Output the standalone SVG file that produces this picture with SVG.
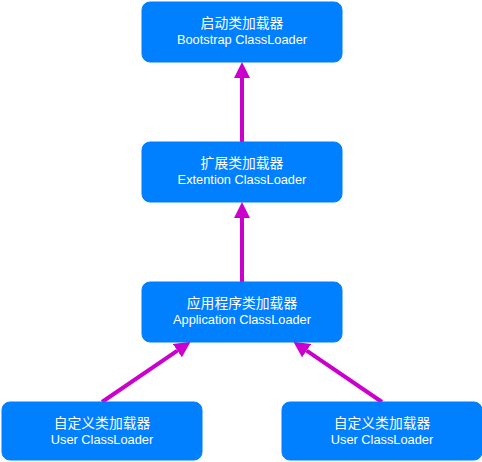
<svg xmlns="http://www.w3.org/2000/svg" width="482" height="462" viewBox="0 0 482 462">
<style>
.box{fill:#007fff;stroke:#007fff;stroke-width:1}
.cn{font-family:"Liberation Sans","Noto Sans CJK SC",sans-serif;font-size:13.8px;fill:#ffffff;text-anchor:middle}
.en{font-family:"Liberation Sans",Arial,sans-serif;font-size:12.8px;fill:#ffffff;text-anchor:middle}
.edge{stroke:#cc00cc;stroke-width:4;fill:none}
</style>
<defs>
<marker id="ah" markerWidth="4" markerHeight="4" refX="0" refY="2" orient="auto" markerUnits="strokeWidth">
<path d="M0,0 L4,2 L0,4 Z" fill="#cc00cc"/>
</marker>
</defs>
<g id="connectors">
<line class="edge" x1="242" y1="142" x2="242" y2="78" marker-end="url(#ah)"/>
<line class="edge" x1="242" y1="282" x2="242" y2="218" marker-end="url(#ah)"/>
<line class="edge" x1="102" y1="402" x2="177.4" y2="350.7" marker-end="url(#ah)"/>
<line class="edge" x1="382" y1="402" x2="306.6" y2="350.7" marker-end="url(#ah)"/>
</g>
<g id="bootstrap">
<rect class="box" x="142" y="2" width="200" height="60" rx="8"/>
<text class="cn" x="242" y="28">启动类加载器</text>
<text class="en" x="242" y="44">Bootstrap ClassLoader</text>
</g>
<g id="extension">
<rect class="box" x="142" y="142" width="200" height="60" rx="8"/>
<text class="cn" x="242" y="168">扩展类加载器</text>
<text class="en" x="242" y="184">Extention ClassLoader</text>
</g>
<g id="application">
<rect class="box" x="142" y="282" width="200" height="60" rx="8"/>
<text class="cn" x="242" y="308">应用程序类加载器</text>
<text class="en" x="242" y="324">Application ClassLoader</text>
</g>
<g id="user1">
<rect class="box" x="2" y="402" width="200" height="58" rx="8"/>
<text class="cn" x="102" y="428">自定义类加载器</text>
<text class="en" x="102" y="444">User ClassLoader</text>
</g>
<g id="user2">
<rect class="box" x="282" y="402" width="200" height="58" rx="8"/>
<text class="cn" x="382" y="428">自定义类加载器</text>
<text class="en" x="382" y="444">User ClassLoader</text>
</g>
</svg>
